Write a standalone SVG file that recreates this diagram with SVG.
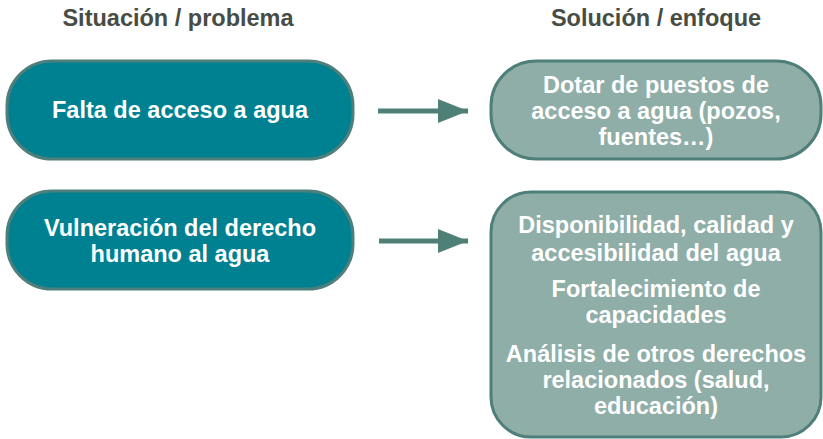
<svg xmlns="http://www.w3.org/2000/svg" width="823" height="439" viewBox="0 0 823 439">
<style>
.hdr{font-family:"Liberation Sans",Arial,sans-serif;font-weight:bold;font-size:23.5px;fill:#474d45;text-anchor:middle}
.t{font-family:"Liberation Sans",Arial,sans-serif;font-weight:bold;font-size:23.5px;fill:#ffffff;text-anchor:middle}
.prob{fill:#008191;stroke:#4f7f7a;stroke-width:3}
.sol{fill:#8faea7;stroke:#4f7f7a;stroke-width:3}
.conn{stroke:#4f8077;stroke-width:5;fill:none}
</style>
<defs>
<marker id="ah" markerUnits="userSpaceOnUse" markerWidth="30" markerHeight="24" refX="30" refY="12" orient="auto">
<path d="M0,0 L30,12 L0,24 Z" fill="#4f8077"/>
</marker>
</defs>
<text class="hdr" x="178" y="26">Situación / problema</text>
<text class="hdr" x="656" y="26">Solución / enfoque</text>
<g id="n1">
<rect class="prob" x="7" y="61" width="346" height="98" rx="45"/>
<text class="t" x="180" y="118">Falta de acceso a agua</text>
</g>
<g id="n2">
<rect class="prob" x="7" y="191" width="346" height="98" rx="45"/>
<text class="t" x="180" y="236">Vulneración del derecho</text>
<text class="t" x="180" y="262">humano al agua</text>
</g>
<g id="n3">
<rect class="sol" x="491" y="61" width="330" height="98" rx="45"/>
<text class="t" x="656" y="93">Dotar de puestos de</text>
<text class="t" x="656" y="119">acceso a agua (pozos,</text>
<text class="t" x="656" y="145">fuentes…)</text>
</g>
<g id="n4">
<rect class="sol" x="491" y="192" width="330" height="245" rx="40"/>
<text class="t" x="656" y="233">Disponibilidad, calidad y</text>
<text class="t" x="656" y="261">accesibilidad del agua</text>
<text class="t" x="656" y="297">Fortalecimiento de</text>
<text class="t" x="656" y="323">capacidades</text>
<text class="t" x="656" y="362">Análisis de otros derechos</text>
<text class="t" x="656" y="388">relacionados (salud,</text>
<text class="t" x="656" y="414">educación)</text>
</g>
<g id="connectors">
<line class="conn" x1="378" y1="111" x2="468" y2="111" marker-end="url(#ah)"/>
<line class="conn" x1="379" y1="241" x2="468" y2="241" marker-end="url(#ah)"/>
</g>
</svg>
